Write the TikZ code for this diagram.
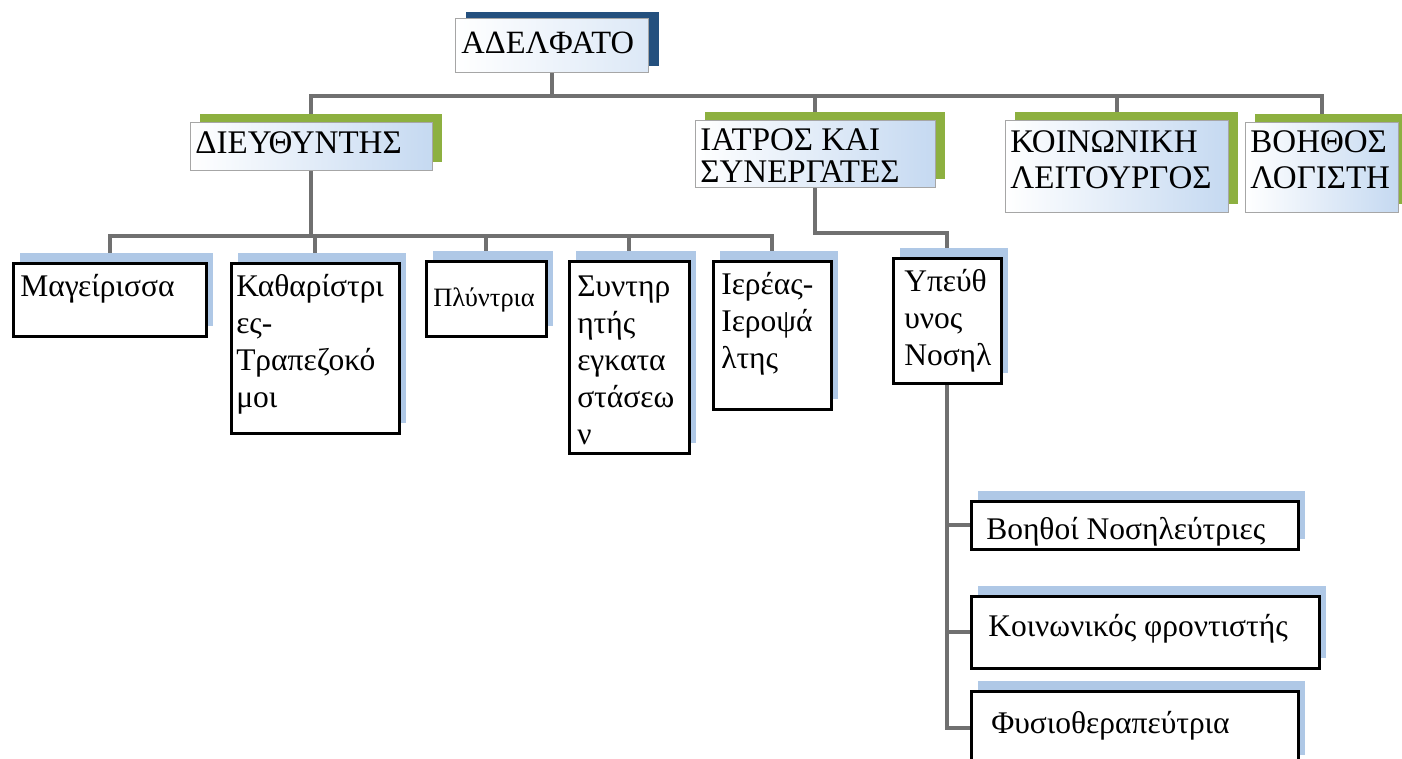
\documentclass[tikz,border=0pt]{standalone}
\usepackage{fontspec}
\setmainfont{Liberation Serif}
\usetikzlibrary{shadows}
\definecolor{connGray}{HTML}{707070}
\definecolor{boxBlue}{HTML}{C5D9F1}
\definecolor{shadowGreen}{HTML}{8DB040}
\definecolor{shadowBlue}{HTML}{AFC8E6}
\definecolor{rootBlue}{HTML}{24507E}
\pgfdeclarelayer{bg}
\pgfsetlayers{bg,main}
% width, height, first baseline, text
\newcommand{\btxt}[4]{\parbox[c][#2][t]{#1}{\raggedright\rule{0pt}{#3}#4}}
\tikzset{
  conn/.style={draw=connGray, line width=4pt},
  rootbox/.style={draw=gray!70, line width=0.8pt, left color=white, right color=boxBlue!60,
    inner xsep=6pt, inner ysep=0pt, anchor=north west, font=\fontsize{32.5}{34}\selectfont,
    drop shadow={shadow xshift=11pt, shadow yshift=6pt, fill=rootBlue, opacity=1}},
  topbox/.style={draw=gray!70, line width=0.8pt, left color=white, right color=boxBlue,
    inner xsep=5pt, inner ysep=0pt, anchor=north west, font=\fontsize{33}{32}\selectfont,
    drop shadow={shadow xshift=10pt, shadow yshift=8pt, fill=shadowGreen, opacity=1}},
  lowbox/.style={draw=black, line width=2.5pt, fill=white,
    inner xsep=6pt, inner ysep=0pt, anchor=north west, font=\fontsize{31.5}{37}\selectfont,
    drop shadow={shadow xshift=7pt, shadow yshift=10pt, fill=shadowBlue, opacity=1}},
}
\begin{document}
\begin{tikzpicture}[x=1pt,y=-1pt]
\useasboundingbox (0,0) rectangle (1402,758);
% top levels
\node[rootbox] (adelf) at (455,18) {\btxt{181pt}{54pt}{35pt}{ΑΔΕΛΦΑΤΟ}};
\node[topbox] (dieu) at (190,122) {\btxt{232pt}{48pt}{31pt}{ΔΙΕΥΘΥΝΤΗΣ}};
\node[topbox] (iatr) at (695,120) {\btxt{230pt}{67pt}{30pt}{ΙΑΤΡΟΣ ΚΑΙ\\ΣΥΝΕΡΓΑΤΕΣ}};
\node[topbox, font=\fontsize{33}{36}\selectfont] (koin) at (1005,120) {\btxt{213pt}{92pt}{32pt}{ΚΟΙΝΩΝΙΚΗ\\ΛΕΙΤΟΥΡΓΟΣ}};
\node[topbox, font=\fontsize{33}{36}\selectfont] (boh) at (1245,122) {\btxt{143pt}{90pt}{30pt}{ΒΟΗΘΟΣ\\ΛΟΓΙΣΤΗ}};
% staff
\node[lowbox, inner xsep=7pt] (mag) at (12,262) {\btxt{179pt}{73pt}{33pt}{Μαγείρισσα}};
\node[lowbox, inner xsep=5pt] (kath) at (230,262) {\btxt{158pt}{170pt}{33pt}{Καθαρίστρι\\ες-\\Τραπεζοκό\\μοι}};
\node[lowbox, inner xsep=7pt, font=\fontsize{26.5}{30}\selectfont] (plyn) at (425,260) {\btxt{106pt}{75pt}{45pt}{Πλύντρια}};
\node[lowbox, inner xsep=8pt] (synt) at (568,260) {\btxt{104pt}{192pt}{35pt}{Συντηρ\\ητής\\εγκατα\\στάσεω\\ν}};
\node[lowbox, inner xsep=8pt] (iere) at (712,260) {\btxt{102pt}{148pt}{33pt}{Ιερέας-\\Ιεροψά\\λτης}};
\node[lowbox, inner xsep=11pt] (ypef) at (892,257) {\btxt{86pt}{125pt}{33pt}{Υπεύθ\\υνος\\Νοσηλ}};
\node[lowbox, inner xsep=15pt] (bn) at (970,500) {\btxt{297pt}{48pt}{38pt}{Βοηθοί Νοσηλεύτριες}};
\node[lowbox, inner xsep=17pt] (kf) at (970,595) {\btxt{314pt}{72pt}{40pt}{Κοινωνικός φροντιστής}};
\node[lowbox, inner xsep=20pt] (fys) at (970,690) {\btxt{287pt}{74pt}{42pt}{Φυσιοθεραπεύτρια}};
% connectors
\begin{pgfonlayer}{bg}
\fill[white] (0,0) rectangle (1402,758);
\draw[conn] (adelf.south) -- ++(0,23) coordinate (topbus);
\foreach \n in {dieu,iatr,koin,boh} \draw[conn] (topbus) -| (\n.north);
\draw[conn] (dieu.south) -- ++(0,65) coordinate (dbus);
\foreach \n in {mag,kath,plyn,synt,iere} \draw[conn] (dbus) -| (\n.north);
\draw[conn] (iatr.south) -- ++(0,45) -| (ypef.north);
\foreach \n in {bn,kf,fys} \draw[conn] (ypef.south) |- (\n.west);
\end{pgfonlayer}
\end{tikzpicture}
\end{document}
